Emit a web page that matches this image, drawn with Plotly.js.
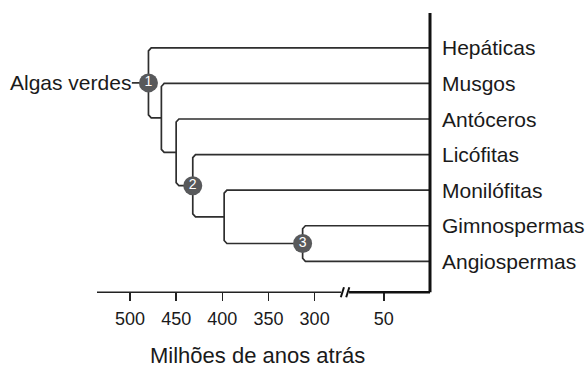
<!DOCTYPE html>
<html><head><meta charset="utf-8">
<script src="https://cdn.plot.ly/plotly-3.0.1.min.js"></script>
<style>html,body{margin:0;padding:0;background:#fff;}#chart{width:588px;height:369px;}</style>
</head><body><div id="chart"></div>
<script>
// ---- data ----
const taxa = ["Hepáticas","Musgos","Antóceros","Licófitas","Monilófitas","Gimnospermas","Angiospermas"];
const nodeAges = [480, 466, 450, 432, 398, 313];   // Ma; node i separates taxa[i] from the rest
const nodeLabels = ["1", "", "", "2", "", "3"];
const outgroup = "Algas verdes";
const outgroupStemAge = 498;
const presentAge = 0;
const tickValues = [500, 450, 400, 350, 300, 50];
const axisTitle = "Milhões de anos atrás";
const breakFrom = 300, breakTo = 50;   // broken time axis

// ---- scale with break ----
const breakShift = 175;
function pos(age){ return age >= breakFrom ? -age : -(age + breakShift); }

const n = taxa.length;
const leafY = taxa.map((_, i) => n - 1 - i);
const nodeY = new Array(nodeAges.length);
for (let i = nodeAges.length - 1; i >= 0; i--) {
  const lower = (i === nodeAges.length - 1) ? leafY[n - 1] : nodeY[i + 1];
  nodeY[i] = (leafY[i] + lower) / 2;
}

const xRange = [-535.75, -168.5];
const yMin = -1.2, yTop = 6.98, axisY = -0.87;
const rx = 3.0, ry = 0.085;   // corner rounding (data units)
const arc = [[0,1],[0.134,0.5],[0.5,0.134],[1,0]];

const lx = [], ly = [];
function pushNode(i){
  const nx = pos(nodeAges[i]);
  const ax = pos(presentAge), ay = leafY[i];
  let bx, by;
  if (i === nodeAges.length - 1) { bx = pos(presentAge); by = leafY[n - 1]; }
  else { bx = pos(nodeAges[i + 1]); by = nodeY[i + 1]; }
  lx.push(ax); ly.push(ay);
  for (const [u, v] of arc) { lx.push(nx + rx * v); ly.push(ay - ry * (1 - v)); }
  for (const [u, v] of arc.slice().reverse()) { lx.push(nx + rx * v); ly.push(by + ry * (1 - v)); }
  lx.push(bx); ly.push(by);
  lx.push(null); ly.push(null);
}
for (let i = 0; i < nodeAges.length; i++) pushNode(i);
lx.push(pos(nodeAges[0]), pos(outgroupStemAge)); ly.push(nodeY[0], nodeY[0]);

const fam = "Liberation Sans, Arial, sans-serif";
const lineColor = "#2e2e2e";
const idx = nodeLabels.map((l, i) => l ? i : -1).filter(i => i >= 0);
const traces = [
  { x: lx, y: ly, mode: "lines", line: { color: lineColor, width: 1.7 }, hoverinfo: "skip" },
  { x: [pos(presentAge), pos(presentAge)], y: [axisY, yTop], mode: "lines",
    line: { color: "#111", width: 3 }, hoverinfo: "skip" },
  { x: idx.map(i => pos(nodeAges[i])), y: idx.map(i => nodeY[i]), text: idx.map(i => nodeLabels[i]),
    mode: "markers+text", textposition: "middle center",
    marker: { size: 19, color: "#58595b" },
    textfont: { color: "#fff", size: 14, family: fam },
    hoverinfo: "skip", cliponaxis: false }
];

const annotations = taxa.map((t, i) => ({
  x: pos(presentAge), y: leafY[i], text: t, xanchor: "left", yanchor: "middle", xshift: 10,
  showarrow: false, font: { size: 21, color: "#1a1a1a", family: fam }
}));
annotations.push({ x: pos(outgroupStemAge), y: nodeY[0], text: outgroup, xanchor: "right", yanchor: "middle",
  xshift: 1, showarrow: false, font: { size: 21, color: "#1a1a1a", family: fam } });
// axis title (placed as annotation to match offset centring)
annotations.push({ xref: "paper", yref: "paper", x: 0.472, y: -0.2234, text: axisTitle,
  xanchor: "center", yanchor: "bottom", borderpad: 0, showarrow: false,
  font: { size: 22, color: "#1a1a1a", family: fam } });

const bx = pos(breakFrom) + 0.44 * (pos(breakTo) - pos(breakFrom));
const shapes = [
  { type: "line", xref: "x", yref: "y", x0: xRange[0], x1: bx - 4.3, y0: axisY, y1: axisY, line: { color: "#222", width: 1.5 } },
  { type: "line", xref: "x", yref: "y", x0: bx + 4.3, x1: pos(presentAge), y0: axisY, y1: axisY, line: { color: "#111", width: 2.5 } },
  { type: "line", xref: "x", yref: "y", x0: bx - 4.6, x1: bx - 1.2, y0: axisY - 0.14, y1: axisY + 0.14, line: { color: "#111", width: 2 } },
  { type: "line", xref: "x", yref: "y", x0: bx + 1.2, x1: bx + 4.6, y0: axisY - 0.14, y1: axisY + 0.14, line: { color: "#111", width: 2 } }
];

const layout = {
  width: 588, height: 369,
  margin: { l: 97, r: 152, t: 13, b: 65 },
  paper_bgcolor: "#fff", plot_bgcolor: "#fff",
  showlegend: false,
  font: { family: fam, color: "#1a1a1a" },
  xaxis: {
    range: xRange, anchor: "free", position: (axisY - yMin) / (yTop - yMin),
    showline: false, showgrid: false, zeroline: false,
    tickmode: "array", tickvals: tickValues.map(pos), ticktext: tickValues.map(String),
    ticks: "outside", ticklen: 8, tickwidth: 1.5, tickcolor: "#222",
    tickfont: { size: 18, color: "#1a1a1a" }, ticklabelstandoff: 2,
    fixedrange: true
  },
  yaxis: { range: [yMin, yTop], visible: false, fixedrange: true },
  annotations, shapes
};

Plotly.newPlot("chart", traces, layout, { staticPlot: true, displayModeBar: false });
</script>
</body></html>
